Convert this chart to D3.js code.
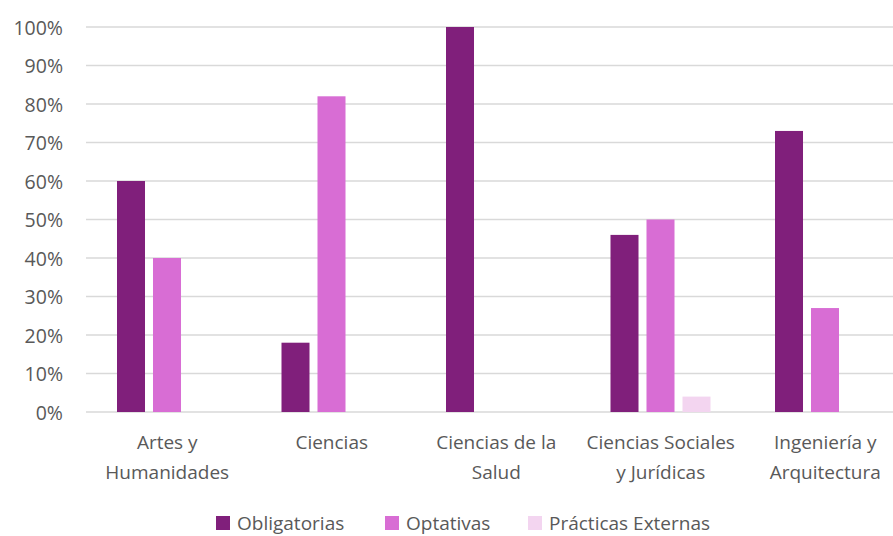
<!DOCTYPE html>
<html>
<head>
<meta charset="utf-8">
<style>
  body { margin: 0; background: #fff; }
  svg { font-family: "Open Sans", sans-serif; }
</style>
<script src="https://d3js.org/d3.v7.min.js"></script>
</head>
<body>
<svg id="chart" width="893" height="536"></svg>
<script>
var categories = [["Artes y", "Humanidades"], ["Ciencias"], ["Ciencias de la", "Salud"], ["Ciencias Sociales", "y Jurídicas"], ["Ingeniería y", "Arquitectura"]];
var seriesNames = ["Obligatorias", "Optativas", "Prácticas Externas"];
var obligatorias = [60, 18, 100, 46, 73];
var optativas = [40, 82, 0, 50, 27];
var practicas = [0, 0, 0, 4, 0];
var yTicks = [0, 10, 20, 30, 40, 50, 60, 70, 80, 90, 100];
var colors = ["#801F7B", "#D86DD4", "#F3D5F0"];

var series = [obligatorias, optativas, practicas];
var svg = d3.select("#chart");

var x = d3.scaleBand().domain(d3.range(categories.length)).range([85, 907.5]);
var x1 = d3.scaleBand().domain(d3.range(3)).range([32, 132]).paddingInner(0.222);
var y = d3.scaleLinear().domain([0, 100]).range([412, 27]);

// gridlines
svg.append("g").selectAll("line").data(yTicks).join("line")
    .attr("x1", 86).attr("x2", 893)
    .attr("y1", d => y(d)).attr("y2", d => y(d))
    .attr("stroke", "#D9D9D9").attr("stroke-width", 1.3);

svg.append("g").selectAll("text").data(yTicks).join("text")
    .attr("x", 63).attr("y", d => y(d))
    .attr("text-anchor", "end").attr("dominant-baseline", "central")
    .attr("fill", "#595959").style("font-size", "19.5px")
    .text(d => d + "%");

// bars
series.forEach(function(vals, s) {
    svg.append("g").selectAll("rect").data(vals).join("rect")
        .attr("x", (d, i) => x(i) + x1(s))
        .attr("width", x1.bandwidth())
        .attr("y", d => y(d))
        .attr("height", d => y(0) - y(d))
        .attr("fill", colors[s]);
});

// category labels
var lab = svg.append("g").selectAll("text").data(categories).join("text")
    .attr("text-anchor", "middle")
    .attr("fill", "#595959").style("font-size", "19px");
lab.each(function(lines, i) {
    var t = d3.select(this);
    lines.forEach(function(l, k) {
        t.append("tspan").attr("x", x(i) + x.bandwidth() / 2).attr("y", 449 + k * 30).text(l);
    });
});

// legend
var legX = [216, 385, 528];
var leg = svg.append("g").selectAll("g").data(seriesNames).join("g")
    .attr("transform", (d, i) => "translate(" + legX[i] + ",516)");
leg.append("rect").attr("width", 14).attr("height", 14).attr("fill", (d, i) => colors[i]);
leg.append("text").attr("x", 21).attr("y", 7).attr("dominant-baseline", "central")
    .attr("fill", "#595959").style("font-size", "19px").text(d => d);
</script>
</body>
</html>
